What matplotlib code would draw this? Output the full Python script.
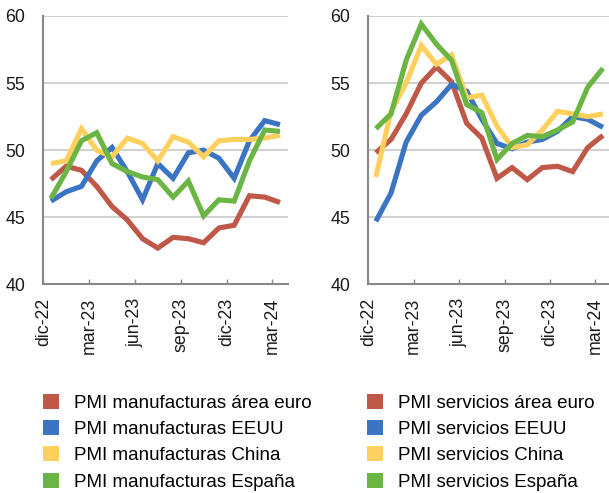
import matplotlib
matplotlib.use("Agg")
import matplotlib.pyplot as plt
from matplotlib.patches import Patch

plt.rcParams['font.family'] = ['Liberation Sans', 'DejaVu Sans']

months = ["dic-22", "ene-23", "feb-23", "mar-23", "abr-23", "may-23", "jun-23",
          "jul-23", "ago-23", "sep-23", "oct-23", "nov-23", "dic-23",
          "ene-24", "feb-24", "mar-24"]
tick_labels = ["dic-22", "mar-23", "jun-23", "sep-23", "dic-23", "mar-24"]

# PMI manufacturas
manuf_euro = [47.8, 48.8, 48.5, 47.3, 45.8, 44.8, 43.4, 42.7, 43.5, 43.4, 43.1, 44.2, 44.4, 46.6, 46.5, 46.1]
manuf_eeuu = [46.2, 46.9, 47.3, 49.2, 50.2, 48.4, 46.3, 49.0, 47.9, 49.8, 50.0, 49.4, 47.9, 50.7, 52.2, 51.9]
manuf_china = [49.0, 49.2, 51.6, 50.0, 49.5, 50.9, 50.5, 49.2, 51.0, 50.6, 49.5, 50.7, 50.8, 50.8, 50.9, 51.1]
manuf_espana = [46.4, 48.4, 50.7, 51.3, 49.0, 48.4, 48.0, 47.8, 46.5, 47.7, 45.1, 46.3, 46.2, 49.2, 51.5, 51.4]

# PMI servicios
serv_euro = [49.8, 50.8, 52.7, 55.0, 56.2, 55.1, 52.0, 50.9, 47.9, 48.7, 47.8, 48.7, 48.8, 48.4, 50.2, 51.1]
serv_eeuu = [44.7, 46.8, 50.6, 52.6, 53.6, 54.9, 54.4, 52.3, 50.5, 50.1, 50.6, 50.8, 51.4, 52.5, 52.3, 51.7]
serv_china = [48.0, 52.9, 55.0, 57.8, 56.4, 57.1, 53.9, 54.1, 51.8, 50.2, 50.4, 51.5, 52.9, 52.7, 52.5, 52.7]
serv_espana = [51.6, 52.7, 56.7, 59.4, 57.9, 56.7, 53.4, 52.8, 49.3, 50.5, 51.1, 51.0, 51.5, 52.1, 54.7, 56.1]

manuf_labels = ["PMI manufacturas área euro", "PMI manufacturas EEUU",
                "PMI manufacturas China", "PMI manufacturas España"]
serv_labels = ["PMI servicios área euro", "PMI servicios EEUU",
               "PMI servicios China", "PMI servicios España"]

colors = ["#BF5846", "#3A74C2", "#FFD05E", "#6BB545"]
grid_c = "#C4C4C4"
spine_c = "#878787"

W, H = 609, 493
fig = plt.figure(figsize=(W / 100, H / 100), dpi=100)


def px_axes(x0, y0, x1, y1):
    return fig.add_axes([x0 / W, 1 - y1 / H, (x1 - x0) / W, (y1 - y0) / H])


ax1 = px_axes(43.3, 16, 287.6, 284.3)
ax2 = px_axes(368.3, 16, 610.5, 284.3)

n = len(months)
xc = [i + 0.5 for i in range(n)]

for ax, series in ((ax1, [manuf_euro, manuf_eeuu, manuf_china, manuf_espana]),
                   (ax2, [serv_euro, serv_eeuu, serv_china, serv_espana])):
    for vals, c in zip(series, colors):
        ax.plot(xc, vals, color=c, lw=3.7, solid_joinstyle="miter",
                solid_capstyle="butt", zorder=3, clip_on=False)
    ax.set_xlim(0, n)
    ax.set_ylim(40, 60)
    ax.set_yticks([40, 45, 50, 55, 60])
    for yv in [45, 50, 55, 60]:
        ax.axhline(yv, color=grid_c, lw=1.1, zorder=1)
    ax.set_xticks([0, 3, 6, 9, 12, 15])
    ax.set_xticklabels(tick_labels, rotation=90, fontsize=12.8, color="#1a1a1a")
    ax.tick_params(axis="x", direction="in", length=3.8, width=1.0,
                   color=spine_c, pad=9.5)
    ax.tick_params(axis="y", length=0, pad=13, labelsize=12.8, labelcolor="#1a1a1a")
    for s in ("top", "right"):
        ax.spines[s].set_visible(False)
    for s in ("left", "bottom"):
        ax.spines[s].set_color(spine_c)
        ax.spines[s].set_linewidth(1.5)
        ax.spines[s].set_zorder(4)

leg_kw = dict(frameon=False, fontsize=13.5, handlelength=0.85, handleheight=0.85,
              handletextpad=0.8, labelspacing=0.44, borderpad=0, borderaxespad=0,
              loc="upper left")
h1 = [Patch(facecolor=c, edgecolor="none") for c in colors]
fig.legend(h1, manuf_labels, bbox_to_anchor=(43.3 / W, 1 - 394 / H), **leg_kw)
fig.legend(h1, serv_labels, bbox_to_anchor=(367.3 / W, 1 - 394 / H), **leg_kw)

fig.savefig("out.png", dpi=100)
